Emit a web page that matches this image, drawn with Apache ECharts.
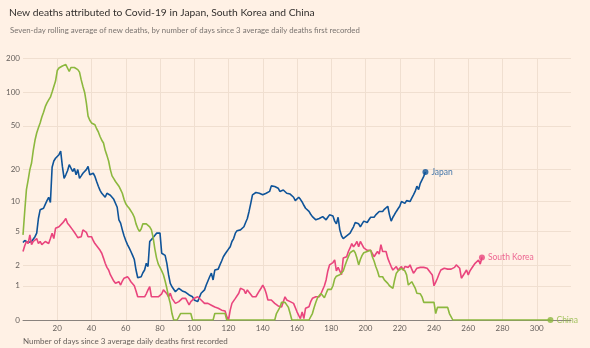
<!DOCTYPE html>
<html>
<head>
<meta charset="utf-8">
<script src="https://cdn.jsdelivr.net/npm/echarts@6/dist/echarts.min.js"></script>
<style>
  html, body { margin: 0; padding: 0; background: #fff1e5; }
  #chart { width: 590px; height: 348px; }
</style>
</head>
<body>
<div id="chart"></div>
<script>
// Seven-day rolling average of new deaths, indexed by days since 3 average daily deaths first recorded
const japan = [
  3.8, 4.0, 3.9, 3.8, 3.7, 3.9, 4.1, 4.4, 4.8, 6.8,
  8.3, 8.4, 8.6, 9.4, 10.2, 11.0, 9.8, 21, 24, 25.4,
  26.4, 27.4, 29.5, 21.4, 16.6, 17.9, 19.5, 22.2, 21.4, 19.2,
  20.5, 17.9, 20.0, 16.6, 17.5, 18.5, 19.2, 20.0, 21.4, 17.9,
  18.2, 18.5, 17.3, 15.5, 14.0, 12.8, 12.0, 11.5, 11.0, 12.0,
  12.5, 11.5, 11.0, 10.5, 10.2, 8.8, 6.6, 6.1, 5.2, 4.5,
  4.0, 3.6, 3.3, 3.0, 2.7, 2.4, 1.75, 1.35, 1.35, 1.4,
  1.6, 1.75, 2.15, 1.95, 3.9, 4.1, 4.3, 4.4, 4.8, 4.8,
  4.8, 2.86, 2.8, 2.7, 2.15, 1.5, 1.1, 0.96, 0.9, 0.77,
  0.72, 0.9, 0.84, 0.8, 0.8, 0.75, 0.7, 0.66, 0.63, 0.6,
  0.5, 0.45, 0.45, 0.45, 0.72, 0.66, 0.84, 1.03, 0.96, 1.4,
  1.58, 1.25, 1.75, 1.75, 1.8, 2.05, 2.3, 2.6, 2.8, 3.0,
  3.2, 3.4, 3.9, 4.2, 4.8, 5.1, 5.0, 5.2, 5.4, 5.6,
  6.2, 6.8, 8.0, 9.6, 11.6, 12.0, 12.2, 12.5, 12.0, 11.8,
  11.6, 11.8, 12.0, 12.2, 12.5, 14.1, 14.0, 13.9, 13.6, 13.4,
  12.5, 12.7, 12.9, 12.4, 12.0, 11.6, 11.8, 12.0, 11.0, 10.2,
  10.6, 11.0, 10.5, 9.9, 9.2, 8.6, 8.3, 8.0, 7.5, 7.1,
  6.8, 6.6, 6.7, 6.8, 7.0, 7.1, 6.8, 6.6, 7.0, 7.4,
  7.3, 7.2, 6.4, 6.0, 7.0, 5.2, 4.5, 4.2, 4.4, 4.5,
  4.7, 4.8, 5.2, 5.6, 6.2, 6.3, 6.0, 5.6, 6.0, 6.4,
  6.3, 6.2, 6.6, 7.0, 7.0, 7.0, 7.4, 7.7, 8.0, 8.0,
  8.0, 8.4, 8.7, 9.0, 7.4, 6.4, 7.0, 7.5, 8.0, 8.5,
  9.0, 10.0, 9.6, 9.6, 10.2, 9.8, 10.0, 10.8, 11.6, 12.5,
  14.0, 13.0, 14.9, 15.5, 17.3, 19.0
];

const southKorea = [
  3.0, 3.5, 3.9, 3.7, 4.6, 3.6, 3.9, 4.1, 4.2, 3.7,
  3.9, 3.6, 3.7, 3.9, 3.8, 3.7, 4.2, 4.8, 4.2, 5.4,
  5.6, 5.6, 5.6, 6.1, 6.4, 6.8, 6.1, 5.8, 5.6, 5.2,
  4.9, 4.6, 4.3, 4.1, 4.4, 5.2, 5.0, 4.9, 4.4, 4.4,
  4.4, 4.0, 3.7, 3.6, 3.3, 3.1, 2.86, 2.5, 2.15, 1.9,
  1.75, 1.5, 1.35, 1.2, 1.1, 1.03, 1.17, 1.03, 1.2, 1.33,
  1.25, 1.4, 1.3, 1.17, 1.1, 1.0, 0.8, 0.6, 0.6, 0.6,
  0.6, 0.6, 0.7, 0.84, 0.96, 0.6, 0.6, 0.6, 0.6, 0.6,
  0.6, 0.7, 0.84, 0.9, 0.7, 0.6, 0.72, 0.55, 0.5, 0.4,
  0.4, 0.45, 0.5, 0.55, 0.55, 0.55, 0.45, 0.36, 0.45, 0.5,
  0.55, 0.6, 0.6, 0.55, 0.5, 0.45, 0.4, 0.4, 0.4, 0.4,
  0.35, 0.31, 0.3, 0.28, 0.27, 0.25, 0.22, 0.22, 0.2, 0.07,
  0, 0.22, 0.4, 0.45, 0.55, 0.6, 0.72, 0.9, 0.86, 0.84,
  0.7, 0.84, 0.75, 0.7, 0.6, 0.55, 0.6, 0.65, 0.8, 0.9,
  1.03, 0.9, 0.72, 0.5, 0.55, 0.5, 0.45, 0.4, 0.36, 0.33,
  0.31, 0.3, 0.45, 0.6, 0.5, 0.45, 0.45, 0.5, 0.4, 0.35,
  0.18, 0.1, 0.03, 0.18, 0.03, 0.27, 0.3, 0.31, 0.45, 0.55,
  0.6, 0.6, 0.6, 0.6, 0.7, 0.72, 1.0, 1.25, 1.7, 2.05,
  2.05, 2.2, 2.37, 1.7, 1.9, 2.0, 1.5, 2.5, 2.5, 2.6,
  3.0, 3.3, 3.7, 3.4, 3.6, 3.9, 3.4, 3.9, 3.6, 3.3,
  3.4, 3.1, 3.1, 3.1, 3.2, 2.6, 2.8, 3.0, 2.8, 3.6,
  3.0, 3.0, 3.0, 2.5, 2.2, 1.95, 1.75, 1.8, 1.95, 1.75,
  1.85, 1.95, 1.75, 1.95, 1.85, 1.9, 2.05, 1.8, 1.58, 1.7,
  1.85, 1.95, 1.9, 1.85, 1.9, 1.95, 1.85, 1.75, 1.6, 1.49,
  1.0, 1.15, 1.33, 1.55, 1.75, 1.8, 1.85, 1.75, 1.8, 1.85,
  1.8, 1.75, 1.9, 2.05, 1.95, 1.85, 1.33, 1.33, 1.6, 1.75,
  1.49, 1.7, 1.85, 2.0, 2.15, 2.25, 2.37, 2.1, 2.55
];

const china = [
  4.6, 8, 13, 16, 20, 23, 30, 37, 43, 48,
  53, 60, 66, 74, 80, 85, 90, 100, 112, 125,
  155, 163, 167, 170, 172, 175, 180, 152, 165, 168,
  165, 162, 158, 150, 128, 112, 99, 80, 61, 56,
  53, 52, 51, 47, 44, 40, 37, 35, 30, 27,
  24, 20, 17.5, 16.5, 15.5, 15, 14, 13, 12, 10.5,
  9.5, 9, 8.6, 8.3, 7.6, 7, 6, 5.4, 5, 5.3,
  6, 6.1, 6, 5.9, 5.6, 5.2, 4.3, 3.2, 2.5, 2.1,
  1.9, 1.7, 1.5, 1.2, 0.9, 0.6, 0.4, 0.14, 0, 0,
  0, 0, 0.14, 0.14, 0.14, 0.14, 0.14, 0.14, 0.14, 0,
  0, 0, 0, 0, 0, 0, 0, 0, 0, 0,
  0, 0, 0.14, 0.14, 0.14, 0.14, 0.14, 0.14, 0.14, 0,
  0, 0, 0, 0, 0, 0, 0, 0, 0, 0,
  0, 0, 0, 0, 0, 0, 0, 0, 0, 0,
  0, 0, 0, 0, 0, 0, 0, 0, 0.14, 0.14,
  0.29, 0.43, 0.43, 0.43, 0.43, 0.29, 0.14, 0, 0, 0,
  0, 0, 0, 0, 0, 0, 0, 0, 0, 0.14,
  0.29, 0.43, 0.57, 0.57, 0.71, 0.71, 0.57, 0.71, 0.86, 0.86,
  0.86, 1.0, 1.3, 1.43, 1.43, 1.5, 1.57, 1.7, 2.0, 2.3,
  2.6, 2.9, 3.0, 3.1, 2.9, 2.5, 2.05, 2.4, 2.7, 2.9,
  3.0, 3.0, 3.0, 3.1, 2.6, 2.3, 1.95, 1.7, 1.4, 1.4,
  1.4, 1.25, 1.2, 1.1, 1.0, 0.96, 0.9, 1.25, 1.58, 1.7,
  1.75, 1.85, 1.95, 1.7, 1.49, 1.03, 1.1, 1.17, 1.2, 0.91,
  0.72, 0.75, 0.7, 0.6, 0.43, 0.43, 0.43, 0.43, 0.43, 0.43,
  0.43, 0.14, 0.29, 0.29, 0.29, 0.29, 0.29, 0.29, 0.29, 0.14,
  0.14, 0, 0, 0, 0, 0, 0, 0, 0, 0,
  0, 0, 0, 0, 0, 0, 0, 0, 0, 0,
  0, 0, 0, 0, 0, 0, 0, 0, 0, 0,
  0, 0, 0, 0, 0, 0, 0, 0, 0, 0,
  0, 0, 0, 0, 0, 0, 0, 0, 0, 0,
  0, 0, 0, 0, 0, 0, 0, 0, 0
];

const yTickLabels = [0, 1, 2, 5, 10, 20, 50, 100, 200];
const xTickLabels = [20, 40, 60, 80, 100, 120, 140, 160, 180, 200, 220, 240, 260, 280, 300];

const FONT = 'Lato, "Noto Sans", sans-serif';
const countries = [
  { name: 'Japan', values: japan, color: '#0f5499' },
  { name: 'South Korea', values: southKorea, color: '#e9457d' },
  { name: 'China', values: china, color: '#8cb83e' }
];

// The vertical scale is logarithmic in (deaths + 1), so zero sits on the baseline
const shift = v => v + 1;
const yTickPositions = yTickLabels.map(shift);

const series = [];
countries.forEach(c => {
  series.push({
    name: c.name,
    type: 'line',
    data: c.values.map((v, i) => [i, shift(v)]),
    showSymbol: false,
    lineStyle: { color: c.color, width: 1.6 },
    itemStyle: { color: c.color },
    z: 3,
    animation: false
  });
  const last = c.values.length - 1;
  series.push({
    name: c.name + ' end',
    type: 'scatter',
    data: [[last, shift(c.values[last])]],
    symbolSize: 6,
    itemStyle: { color: c.color },
    label: {
      show: true,
      position: 'right',
      distance: 3,
      formatter: c.name,
      color: c.color,
      fontSize: 8.5,
      fontFamily: FONT
    },
    z: 4,
    animation: false
  });
});

const chart = echarts.init(document.getElementById('chart'), null, { renderer: 'canvas' });
chart.setOption({
  backgroundColor: '#fff1e5',
  animation: false,
  title: [
    {
      text: 'New deaths attributed to Covid-19 in Japan, South Korea and China',
      left: 4, top: 3,
      textStyle: { fontSize: 10.3, fontWeight: 'normal', color: '#33302e', fontFamily: FONT }
    },
    {
      text: 'Seven-day rolling average of new deaths, by number of days since 3 average daily deaths first recorded',
      left: 5, top: 21,
      textStyle: { fontSize: 7.8, fontWeight: 'normal', color: '#7a7470', fontFamily: FONT }
    }
  ],
  grid: { left: 23, right: 19, top: 58, bottom: 28 },
  xAxis: {
    type: 'value',
    min: 0,
    max: 320,
    axisLine: { show: true, lineStyle: { color: '#8a837e', width: 1 } },
    axisTick: { show: false, customValues: xTickLabels },
    axisLabel: {
      customValues: xTickLabels,
      color: '#66605c', fontSize: 8, fontFamily: FONT, margin: 4
    },
    splitLine: { show: true, lineStyle: { color: '#f0dfd0', width: 1 } }
  },
  yAxis: {
    type: 'log',
    logBase: 10,
    min: 1,
    max: 201,
    axisLine: { show: false },
    axisTick: { show: false, customValues: yTickPositions },
    axisLabel: {
      customValues: yTickPositions,
      formatter: v => String(Math.round(v - 1)),
      color: '#66605c', fontSize: 8, fontFamily: FONT, margin: 3
    },
    splitLine: { show: true, lineStyle: { color: '#f0dfd0', width: 1 } }
  },
  graphic: [
    {
      type: 'text',
      left: 23, top: 337,
      style: {
        text: 'Number of days since 3 average daily deaths first recorded',
        fill: '#66605c', fontSize: 8, fontFamily: FONT
      }
    }
  ],
  series: series
});
</script>
</body>
</html>
